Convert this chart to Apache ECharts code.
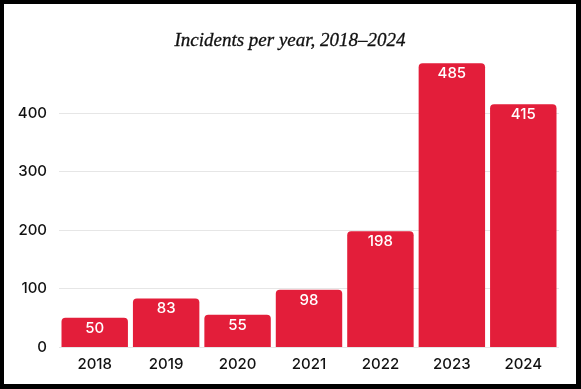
<!DOCTYPE html>
<html><head><meta charset="utf-8">
<script src="https://cdn.jsdelivr.net/npm/echarts@6/dist/echarts.min.js"></script>
<style>
html,body{margin:0;padding:0;background:#000;width:581px;height:389px;overflow:hidden;}
#c{position:absolute;left:4px;top:4px;width:572px;height:380px;background:#fff;border-radius:3px;}
</style></head><body>
<div id="c"></div>
<script>
const categories = ['2018','2019','2020','2021','2022','2023','2024'];
const incidents = [50, 83, 55, 98, 198, 485, 415];
const titleText = 'Incidents per year, 2018\u20132024';

const chart = echarts.init(document.getElementById('c'), null, {renderer:'canvas'});
chart.setOption({
  backgroundColor: '#fff',
  animation: false,
  title: {
    text: titleText, left: 'center', top: 22,
    textStyle: {fontFamily: '"Liberation Serif", serif', fontStyle: 'italic', fontWeight: 'normal', fontSize: 19, color: '#111', textBorderColor: '#111', textBorderWidth: 0.3}
  },
  grid: {left: 55, right: 17, top: 50.5, bottom: 37},
  xAxis: {
    type: 'category', data: categories,
    axisLine: {show: false}, axisTick: {show: false},
    axisLabel: {color: '#111', fontFamily: 'Inter, sans-serif', fontWeight: 500, fontSize: 15, margin: 10}
  },
  yAxis: {
    type: 'value', min: 0, max: 500, interval: 100,
    axisLine: {show: false}, axisTick: {show: false},
    axisLabel: {color: '#111', fontFamily: 'Inter, sans-serif', fontWeight: 500, fontSize: 15, margin: 12, showMaxLabel: false},
    splitLine: {show: true, showMaxLine: false, lineStyle: {color: '#e6e6e6', width: 1}}
  },
  series: [{
    type: 'bar', data: incidents, barCategoryGap: '7%',
    itemStyle: {color: '#e31e3a', borderRadius: [4,4,0,0]},
    label: {show: true, position: 'insideTop', distance: 3, color: '#fff', fontFamily: 'Inter, sans-serif', fontWeight: 500, fontSize: 15}
  }]
});
</script>
</body></html>
